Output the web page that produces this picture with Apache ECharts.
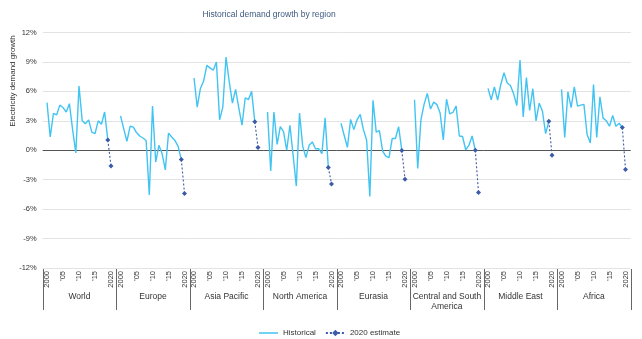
<!DOCTYPE html>
<html>
<head>
<meta charset="utf-8">
<script src="https://cdn.jsdelivr.net/npm/echarts@6/dist/echarts.min.js"></script>
<style>
html,body{margin:0;padding:0;background:#fff;}
#chart{width:642px;height:339px;}
</style>
</head>
<body>
<div id="chart"></div>
<script>
// ---- data ----
const regions = ['World', 'Europe', 'Asia Pacific', 'North America', 'Eurasia', 'Central and South\nAmerica', 'Middle East', 'Africa'];
const years = [2000,2001,2002,2003,2004,2005,2006,2007,2008,2009,2010,2011,2012,2013,2014,2015,2016,2017,2018,2019];
const tickYears = [2000, 2005, 2010, 2015, 2020];
const yTicks = [-12, -9, -6, -3, 0, 3, 6, 9, 12];

const world        = [4.86,1.35,3.75,3.6,4.6,4.35,3.9,4.75,2.1,-0.27,6.55,3.0,2.7,3.1,1.85,1.7,3.0,2.65,3.9,1.05];
const europe       = [3.5,2.2,0.9,2.45,2.36,1.8,1.45,1.25,1.0,-4.55,4.5,-1.2,0.5,-0.35,-2.0,1.75,1.35,1.0,0.4,-0.95];
const asiaPacific  = [7.36,4.4,6.3,7.05,8.65,8.4,8.15,9.0,3.1,4.4,9.5,7.0,4.8,6.2,4.3,2.55,5.35,5.15,6.0,2.9];
const northAmerica = [3.9,-2.1,3.9,0.6,2.4,1.9,0.0,2.55,-0.5,-3.65,3.8,0.4,-0.75,0.5,0.85,0.15,0.15,-0.35,3.3,-1.75];
const eurasia      = [2.75,1.5,0.3,3.15,2.1,3.1,3.65,2.1,1.05,-4.7,5.1,1.85,2.0,-0.1,-0.6,-0.75,1.2,1.2,2.4,-0.02];
const centralSouthAmerica = [5.15,-1.85,3.1,4.7,5.8,4.2,4.9,4.65,3.8,1.05,5.2,3.7,3.85,4.5,1.45,1.4,0.05,0.5,1.45,0.0];
const middleEast   = [6.3,5.15,6.45,5.1,6.7,7.9,6.85,6.6,5.75,4.55,9.2,3.4,7.4,4.05,6.27,3.0,4.8,4.0,1.7,2.95];
const africa       = [6.2,1.3,5.95,4.35,6.45,4.5,4.6,4.67,1.6,0.75,6.7,1.3,5.45,3.27,3.0,2.45,3.55,2.45,2.75,2.32];
const estimate2020 = [-1.6,-4.4,0.27,-3.45,-2.95,-4.3,-0.5,-1.95];

const historical = [world, europe, asiaPacific, northAmerica, eurasia, centralSouthAmerica, middleEast, africa];

// ---- layout ----
const FONT = '"Liberation Sans", Arial, sans-serif';
const plotLeft = 42.7, panelW = 73.5, plotTop = 32.5, plotH = 235.5;
const histColor = '#41c4f2', estColor = '#3a5ba8';

const grids = [], xAxes = [], yAxes = [], series = [], graphics = [];
regions.forEach((name, i) => {
  grids.push({ left: plotLeft + panelW * i, top: plotTop, width: panelW, height: plotH });
  xAxes.push({
    type: 'value', gridIndex: i, min: 1998.65, max: 2021.62,
    name: name, nameLocation: 'middle', nameGap: 24, nameMoveOverlap: false,
    nameTextStyle: { fontFamily: FONT, fontSize: 8.5, color: '#333', lineHeight: 9.5 },
    axisLine: { show: false }, axisTick: { show: false }, splitLine: { show: false },
    axisLabel: {
      customValues: tickYears, rotate: 90, margin: 3,
      fontFamily: FONT, fontSize: 7.5, color: '#333',
      formatter: v => (v === 2000 || v === 2020) ? String(v) : "'" + String(v).slice(2)
    }
  });
  yAxes.push({
    type: 'value', gridIndex: i, min: yTicks[0], max: yTicks[yTicks.length - 1], interval: 3,
    axisLine: { show: false }, axisTick: { show: false },
    splitLine: { lineStyle: { color: '#e3e3e3', width: 1 } },
    axisLabel: { show: i === 0, margin: 6, fontFamily: FONT, fontSize: 7.5, color: '#333', formatter: '{value}%' }
  });
  series.push({
    name: 'Historical', type: 'line', xAxisIndex: i, yAxisIndex: i,
    data: years.map((y, k) => [y, historical[i][k]]),
    showSymbol: false, symbol: 'none',
    lineStyle: { color: histColor, width: 1.4 }, itemStyle: { color: histColor },
    z: 3,
    markLine: {
      silent: true, symbol: 'none', label: { show: false },
      lineStyle: { color: '#555', width: 1, type: 'solid' },
      data: [{ yAxis: 0 }], animation: false, z: 2
    }
  });
  series.push({
    name: '2020 estimate', type: 'line', xAxisIndex: i, yAxisIndex: i,
    data: [[2019, historical[i][historical[i].length - 1]], [2020, estimate2020[i]]],
    symbol: 'diamond', symbolSize: 5,
    lineStyle: { color: estColor, width: 1.1, type: [2, 2] }, itemStyle: { color: estColor },
    z: 4
  });
});

// panel separators below the plot
for (let i = 0; i <= regions.length; i++) {
  const x = Math.round(plotLeft + panelW * i) + 0.5;
  graphics.push({ type: 'line', shape: { x1: x, y1: plotTop + plotH + 1, x2: x, y2: 310 }, style: { stroke: '#666', lineWidth: 1 } });
}
graphics.push({
  type: 'text', x: 13, y: 81, rotation: Math.PI / 2,
  style: { text: 'Electricity demand growth', font: '8px ' + FONT, fill: '#333', align: 'center', verticalAlign: 'middle' }
});

const chart = echarts.init(document.getElementById('chart'), null, { renderer: 'canvas' });
chart.setOption({
  animation: false,
  backgroundColor: '#fff',
  textStyle: { fontFamily: FONT },
  title: {
    text: 'Historical demand growth by region', left: 264, top: 5, textAlign: 'center',
    textStyle: { fontFamily: FONT, fontSize: 8.5, fontWeight: 'normal', color: '#3d5a80' }
  },
  legend: {
    data: [
      { name: 'Historical', icon: 'path://M0,0L19,0L19,1.5L0,1.5Z' },
      { name: '2020 estimate' }
    ],
    left: 254, top: 324,
    itemWidth: 19, itemHeight: 8, itemGap: 9,
    textStyle: { fontFamily: FONT, fontSize: 8, color: '#333' }
  },
  grid: grids, xAxis: xAxes, yAxis: yAxes, series: series, graphic: graphics
});
</script>
</body>
</html>
